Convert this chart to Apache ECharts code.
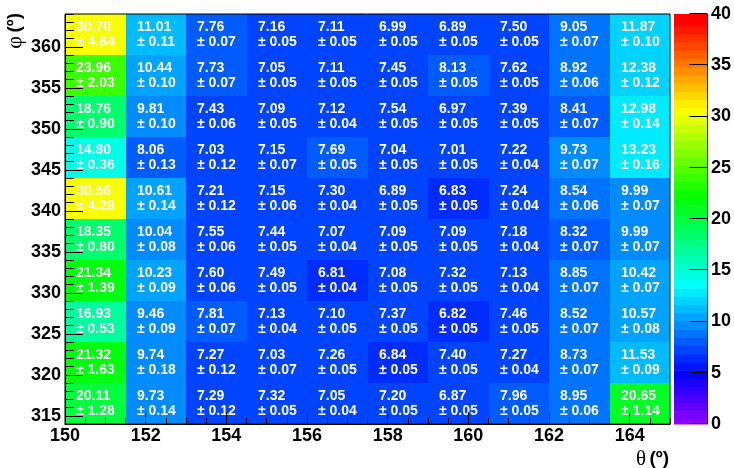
<!DOCTYPE html>
<html>
<head>
<meta charset="utf-8">
<script src="https://cdn.jsdelivr.net/npm/echarts@6/dist/echarts.min.js"></script>
<style>
  html, body { margin: 0; padding: 0; background: #fff; }
  #chart { width: 734px; height: 468px; }
</style>
</head>
<body>
<div id="chart"></div>
<script>
// Bin lower edges (theta columns, phi rows) and bin widths
const thetaLow = [150, 151.5, 153, 154.5, 156, 157.5, 159, 160.5, 162, 163.5];
const thetaWidth = 1.5;
const phiLow = [314, 319, 324, 329, 334, 339, 344, 349, 354, 359];
const phiWidth = 5;
const thetaMin = 150, thetaMax = 165, phiMin = 314, phiMax = 364;

// Bin contents, one row per phi bin (bottom row first), one entry per theta bin
const counts = [
  [20.11, 9.73, 7.29, 7.32, 7.05, 7.20, 6.87, 7.96, 8.95, 20.65],
  [21.32, 9.74, 7.27, 7.03, 7.26, 6.84, 7.40, 7.27, 8.73, 11.53],
  [16.93, 9.46, 7.81, 7.13, 7.10, 7.37, 6.82, 7.46, 8.52, 10.57],
  [21.34, 10.23, 7.60, 7.49, 6.81, 7.08, 7.32, 7.13, 8.85, 10.42],
  [18.35, 10.04, 7.55, 7.44, 7.07, 7.09, 7.09, 7.18, 8.32, 9.99],
  [30.56, 10.61, 7.21, 7.15, 7.30, 6.89, 6.83, 7.24, 8.54, 9.99],
  [14.80, 8.06, 7.03, 7.15, 7.69, 7.04, 7.01, 7.22, 9.73, 13.23],
  [18.76, 9.81, 7.43, 7.09, 7.12, 7.54, 6.97, 7.39, 8.41, 12.98],
  [23.96, 10.44, 7.73, 7.05, 7.11, 7.45, 8.13, 7.62, 8.92, 12.38],
  [30.70, 11.01, 7.76, 7.16, 7.11, 6.99, 6.89, 7.50, 9.05, 11.87]
];
const errors = [
  [1.28, 0.14, 0.12, 0.05, 0.04, 0.05, 0.05, 0.05, 0.06, 1.14],
  [1.63, 0.18, 0.12, 0.07, 0.05, 0.05, 0.05, 0.04, 0.07, 0.09],
  [0.53, 0.09, 0.07, 0.04, 0.05, 0.05, 0.05, 0.05, 0.07, 0.08],
  [1.39, 0.09, 0.06, 0.05, 0.04, 0.05, 0.05, 0.04, 0.07, 0.07],
  [0.80, 0.08, 0.06, 0.05, 0.04, 0.05, 0.05, 0.04, 0.07, 0.07],
  [4.29, 0.14, 0.12, 0.06, 0.04, 0.05, 0.05, 0.04, 0.06, 0.07],
  [0.36, 0.13, 0.12, 0.07, 0.05, 0.05, 0.05, 0.04, 0.07, 0.16],
  [0.90, 0.10, 0.06, 0.05, 0.04, 0.05, 0.05, 0.05, 0.07, 0.14],
  [2.03, 0.10, 0.07, 0.05, 0.05, 0.05, 0.05, 0.05, 0.06, 0.12],
  [4.64, 0.11, 0.07, 0.05, 0.05, 0.05, 0.05, 0.05, 0.07, 0.10]
];

// Axis tick labels
const thetaTicks = [150, 152, 154, 156, 158, 160, 162, 164];
const phiTicks = [315, 320, 325, 330, 335, 340, 345, 350, 355, 360];
const zTicks = [0, 5, 10, 15, 20, 25, 30, 35, 40];
const zMin = 0, zMax = 40, zInterval = 5;

// Minor tick positions
const thetaMinor = [];
for (let v = 150; v <= 165; v += 0.5) if (v % 2 !== 0) thetaMinor.push(v);
const phiMinor = [];
for (let v = 314; v <= 364; v++) if (v % 5 !== 0) phiMinor.push(v);

// 50-step violet -> red palette (HLS, full saturation, lightness 0.5)
function hueToRgb(h) {
  const c = 1, hp = h / 60, x = c * (1 - Math.abs(hp % 2 - 1));
  let r = 0, g = 0, b = 0;
  if (hp < 1) { r = c; g = x; } else if (hp < 2) { r = x; g = c; }
  else if (hp < 3) { g = c; b = x; } else if (hp < 4) { g = x; b = c; }
  else if (hp < 5) { r = x; b = c; } else { r = c; b = x; }
  const f = v => Math.round(v * 255);
  return 'rgb(' + f(r) + ',' + f(g) + ',' + f(b) + ')';
}
const nLevels = 50, levelStep = 0.8, levelShift = 0.35;
const palette = [];
for (let k = 0; k < nLevels; k++) palette.push(hueToRgb(k < nLevels - 1 ? 280 - (k + 1) * 5.6 : 0));
const pieces = [], levelBands = [];
for (let k = 0; k < nLevels; k++) {
  const lo = k * levelStep - levelShift, hi = (k + 1) * levelStep - levelShift;
  const p = { color: palette[k] };
  if (k > 0) p.gte = lo;
  if (k < nLevels - 1) p.lt = hi;
  pieces.push(p);
  levelBands.push([thetaMax, Math.max(zMin, lo), k < nLevels - 1 ? hi : zMax, k]);
}

// Cell data: [theta low edge, phi low edge, content, error]
const cells = [];
phiLow.forEach((phi, j) => thetaLow.forEach((th, i) => cells.push([th, phi, counts[j][i], errors[j][i]])));

// The palette bar shares the plot's vertical extent: map z onto the phi scale
const zToPhi = z => phiMin + (z - zMin) * (phiMax - phiMin) / (zMax - zMin);
const BAR_GAP = 4, BAR_WIDTH = 34, BAR_TICK = 18;

const SANS = '"Liberation Sans", Arial, Helvetica, sans-serif';
const SERIF = '"Liberation Serif", "DejaVu Serif", serif';
const CELL_FONT = 'bold 14px ' + SANS;
const measureCtx = document.createElement('canvas').getContext('2d');
measureCtx.font = CELL_FONT;
const textWidth = s => measureCtx.measureText(s).width;

const tickLabel = { color: '#000', fontFamily: SANS, fontWeight: 'bold', fontSize: 18 };
const blackLine = { show: true, onZero: false, lineStyle: { color: '#000', width: 1 } };
const noLine = { show: false, onZero: false };

const chart = echarts.init(document.getElementById('chart'), null, { renderer: 'canvas' });
chart.setOption({
  animation: false,
  backgroundColor: '#fff',
  grid: [
    { left: 65, top: 14, width: 605, height: 410, show: true, borderColor: '#000', borderWidth: 1,
      backgroundColor: 'rgba(0,0,0,0)', z: 5 },
    { left: 674, top: 14, width: 34, height: 410 }
  ],
  xAxis: [
    { gridIndex: 0, type: 'value', min: thetaMin, max: thetaMax, position: 'bottom', z: 6, axisLine: blackLine,
      axisTick: { show: true, inside: true, length: 12, customValues: thetaTicks, lineStyle: { color: '#000' } },
      axisLabel: Object.assign({ customValues: thetaTicks, margin: 3 }, tickLabel), splitLine: { show: false } },
    { gridIndex: 0, type: 'value', min: thetaMin, max: thetaMax, position: 'bottom', z: 6, axisLine: noLine,
      axisTick: { show: true, inside: true, length: 6, customValues: thetaMinor, lineStyle: { color: '#000' } },
      axisLabel: { show: false }, splitLine: { show: false } },
    { gridIndex: 1, type: 'value', min: 0, max: 1, position: 'bottom',
      axisLine: noLine, axisTick: { show: false }, axisLabel: { show: false }, splitLine: { show: false } }
  ],
  yAxis: [
    { gridIndex: 0, type: 'value', min: phiMin, max: phiMax, position: 'left', z: 6, axisLine: blackLine,
      axisTick: { show: true, inside: true, length: 18, customValues: phiTicks, lineStyle: { color: '#000' } },
      axisLabel: Object.assign({ customValues: phiTicks, margin: 4 }, tickLabel), splitLine: { show: false } },
    { gridIndex: 0, type: 'value', min: phiMin, max: phiMax, position: 'left', z: 6, axisLine: noLine,
      axisTick: { show: true, inside: true, length: 9, customValues: phiMinor, lineStyle: { color: '#000' } },
      axisLabel: { show: false }, splitLine: { show: false } },
    // palette axis labels
    { gridIndex: 1, type: 'value', min: zMin, max: zMax, interval: zInterval, position: 'right', z: 6,
      axisLine: noLine, axisTick: { show: false },
      axisLabel: Object.assign({ margin: 3 }, tickLabel), splitLine: { show: false } }
  ],
  visualMap: { type: 'piecewise', show: false, seriesIndex: 0, dimension: 2, pieces: pieces },
  graphic: [
    { type: 'text', x: 669, y: 459, z: 10,
      style: { text: '{g|θ} {b|(º)}', align: 'right', verticalAlign: 'middle',
        rich: { g: { fontFamily: SERIF, fontSize: 21, fill: '#000' },
                b: { fontFamily: SANS, fontWeight: 'bold', fontSize: 19, fill: '#000' } } } },
    { type: 'text', x: 15, y: 13, rotation: Math.PI / 2, z: 10,
      style: { text: '{g|φ} {b|(º)}', align: 'right', verticalAlign: 'middle',
        rich: { g: { fontFamily: SERIF, fontSize: 22, fill: '#000' },
                b: { fontFamily: SANS, fontWeight: 'bold', fontSize: 19, fill: '#000' } } } }
  ],
  series: [
    {
      type: 'custom', coordinateSystem: 'cartesian2d', xAxisIndex: 0, yAxisIndex: 0, z: 1,
      data: cells,
      renderItem: function (params, api) {
        const x0 = api.value(0), y0 = api.value(1);
        const p0 = api.coord([x0, y0]);
        const p1 = api.coord([x0 + thetaWidth, y0 + phiWidth]);
        const left = Math.round(p0[0]), right = Math.round(p1[0]);
        const top = Math.round(p1[1]), bottom = Math.round(p0[1]);
        const cx = (left + right) / 2, cy = (top + bottom) / 2;
        const line1 = api.value(2).toFixed(2);
        const line2 = '± ' + api.value(3).toFixed(2);
        const w = Math.max(textWidth(line1), textWidth(line2));
        const tx = Math.round(cx - w / 2);
        const txt = (s, y) => ({ type: 'text',
          style: { text: s, x: tx, y: y, font: CELL_FONT, fill: '#fff',
            align: 'left', textAlign: 'left', verticalAlign: 'middle', textVerticalAlign: 'middle' } });
        return { type: 'group', children: [
          { type: 'rect', shape: { x: left, y: top, width: right - left, height: bottom - top },
            style: { fill: api.visual('color') } },
          txt(line1, cy - 7), txt(line2, cy + 8) ] };
      }
    },
    {
      // palette bar to the right of the plot: [plot edge, band low, band high, level]
      type: 'custom', coordinateSystem: 'cartesian2d', xAxisIndex: 0, yAxisIndex: 0, z: 1, clip: false,
      encode: { x: 0, y: 1 },
      data: levelBands,
      renderItem: function (params, api) {
        const pLo = api.coord([thetaMax, zToPhi(api.value(1))]);
        const pHi = api.coord([thetaMax, zToPhi(api.value(2))]);
        const x = Math.round(pLo[0]) + BAR_GAP;
        return { type: 'rect',
          shape: { x: x, y: pHi[1], width: BAR_WIDTH, height: pLo[1] - pHi[1] + 0.5 },
          style: { fill: palette[api.value(3)] } };
      }
    },
    {
      // palette axis: right edge line and ticks pointing into the bar
      type: 'custom', coordinateSystem: 'cartesian2d', xAxisIndex: 0, yAxisIndex: 0, z: 8, clip: false,
      encode: { x: 0, y: 1 },
      data: zTicks.map(v => [thetaMax, v]),
      renderItem: function (params, api) {
        const p = api.coord([thetaMax, zToPhi(api.value(1))]);
        const pTop = api.coord([thetaMax, zToPhi(zMax)]);
        const pBot = api.coord([thetaMax, zToPhi(zMin)]);
        const xr = Math.round(p[0]) + BAR_GAP + BAR_WIDTH - 0.5;
        const y = Math.round(p[1]) - 0.5;
        const children = [
          { type: 'line', shape: { x1: xr - BAR_TICK, y1: y, x2: xr, y2: y },
            style: { stroke: '#000', lineWidth: 1, fill: null } }
        ];
        if (params.dataIndex === 0) {
          children.push({ type: 'line', shape: { x1: xr, y1: pTop[1], x2: xr, y2: pBot[1] },
            style: { stroke: '#000', lineWidth: 1, fill: null } });
        }
        return { type: 'group', children: children };
      }
    }
  ]
});
</script>
</body>
</html>
